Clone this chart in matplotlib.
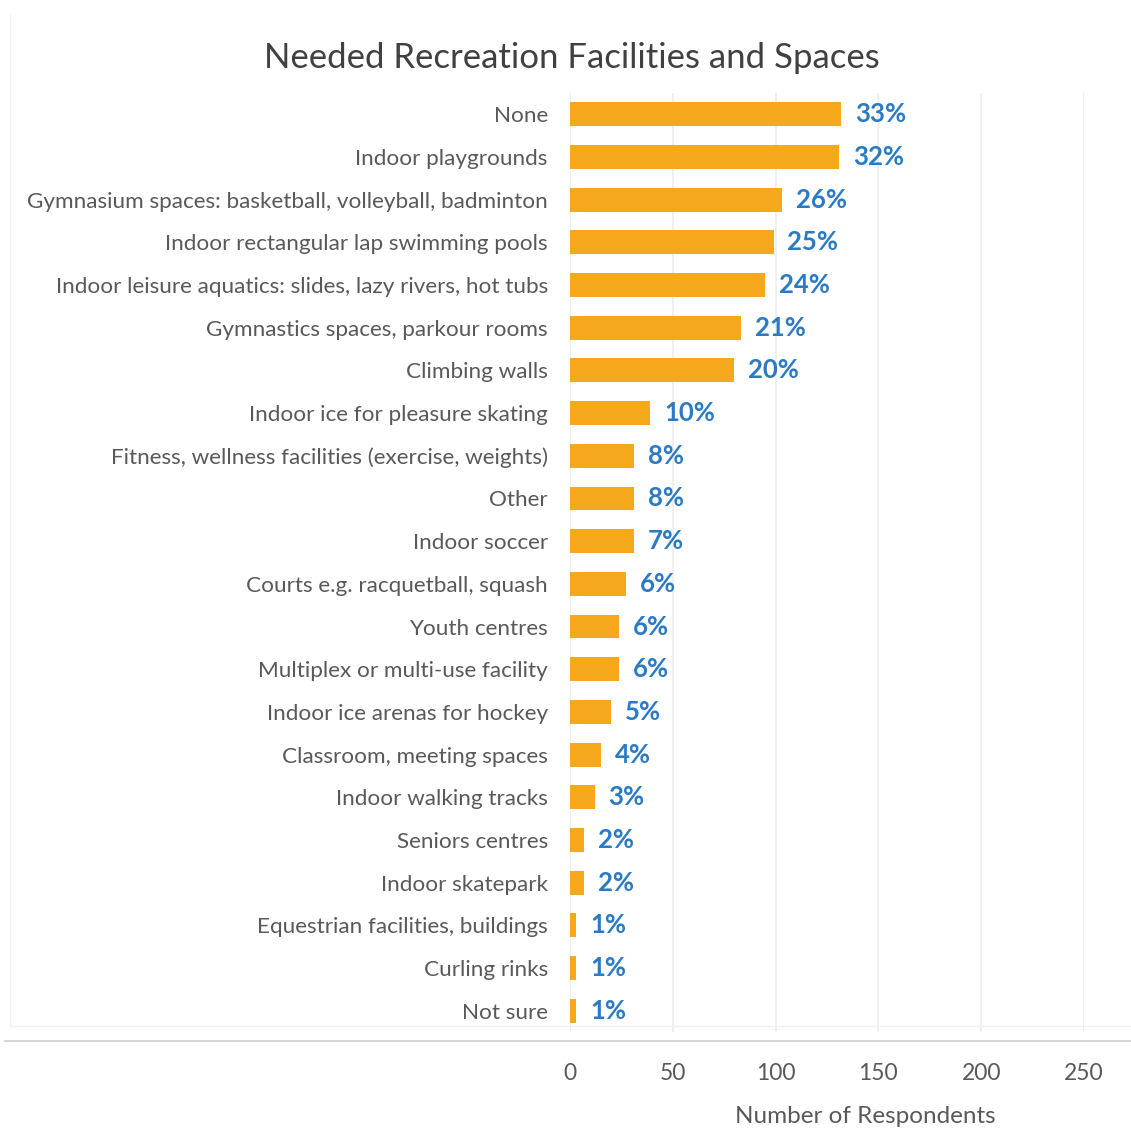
import matplotlib
matplotlib.use("Agg")
import matplotlib.pyplot as plt
from matplotlib.lines import Line2D

categories = [
    "None",
    "Indoor playgrounds",
    "Gymnasium spaces: basketball, volleyball, badminton",
    "Indoor rectangular lap swimming pools",
    "Indoor leisure aquatics: slides, lazy rivers, hot tubs",
    "Gymnastics spaces, parkour rooms",
    "Climbing walls",
    "Indoor ice for pleasure skating",
    "Fitness, wellness facilities (exercise, weights)",
    "Other",
    "Indoor soccer",
    "Courts e.g. racquetball, squash",
    "Youth centres",
    "Multiplex or multi-use facility",
    "Indoor ice arenas for hockey",
    "Classroom, meeting spaces",
    "Indoor walking tracks",
    "Seniors centres",
    "Indoor skatepark",
    "Equestrian facilities, buildings",
    "Curling rinks",
    "Not sure",
]
respondents = [132, 131, 103, 99, 95, 83, 80, 39, 31, 31, 31, 27, 24, 24, 20, 15, 12, 7, 7, 3, 3, 3]
percent_labels = ["33%", "32%", "26%", "25%", "24%", "21%", "20%", "10%", "8%", "8%", "7%",
                  "6%", "6%", "6%", "5%", "4%", "3%", "2%", "2%", "1%", "1%", "1%"]
x_ticks = [0, 50, 100, 150, 200, 250]

BAR_COLOR = "#F5A81C"
LABEL_BLUE = "#2A7BC4"
TEXT_GRAY = "#595959"
FONT = ["Lato", "DejaVu Sans"]

W, H = 1131, 1146
fig = plt.figure(figsize=(W / 100, H / 100), dpi=100)
fig.patch.set_facecolor("white")

ax = fig.add_axes([570 / W, 1 - 1032 / H, (1084 - 570) / W, (1032 - 93) / H])
ypos = list(range(len(categories)))
ax.barh(ypos, respondents, height=0.56, color=BAR_COLOR, zorder=3)

for y, v, lab in zip(ypos, respondents, percent_labels):
    ax.annotate(lab, (v, y), xytext=(10, 0), textcoords="offset points",
                ha="left", va="center", color=LABEL_BLUE, fontsize=18.5,
                fontweight="bold", family=FONT)

ax.set_xlim(0, 250)
ax.set_ylim(len(categories) - 0.5, -0.5)
ax.set_yticks(ypos)
ax.set_yticklabels(categories, family=FONT, fontsize=16.2, color=TEXT_GRAY)
ax.set_xticks(x_ticks)
ax.set_xticklabels([str(t) for t in x_ticks], family=FONT, fontsize=16.5, color=TEXT_GRAY)
ax.tick_params(axis="y", length=0, pad=16)
ax.tick_params(axis="x", length=0, pad=22)
for s in ax.spines.values():
    s.set_visible(False)
ax.grid(axis="x", color="#ececec", linewidth=1.2, zorder=0)
ax.set_axisbelow(True)
ax.set_xlabel("Number of Respondents", family=FONT, fontsize=17.5, color=TEXT_GRAY)
ax.xaxis.set_label_coords(0.575, -0.079)

fig.text(572 / W, 1 - 58 / H, "Needed Recreation Facilities and Spaces", ha="center", va="center",
         fontsize=25, color="#404040", family=FONT)

# separator lines under the plot area
fig.add_artist(Line2D([5 / W, 1], [1 - 1041 / H, 1 - 1041 / H], color="#cfcfcf", linewidth=1.2))
fig.add_artist(Line2D([10 / W, 1], [1 - 1026 / H, 1 - 1026 / H], color="#f0f0f0", linewidth=1.0))
fig.add_artist(Line2D([10 / W, 10 / W], [1 - 1026 / H, 1 - 15 / H], color="#f0f0f0", linewidth=1.0))

fig.savefig("out.png", dpi=100, facecolor="white")
